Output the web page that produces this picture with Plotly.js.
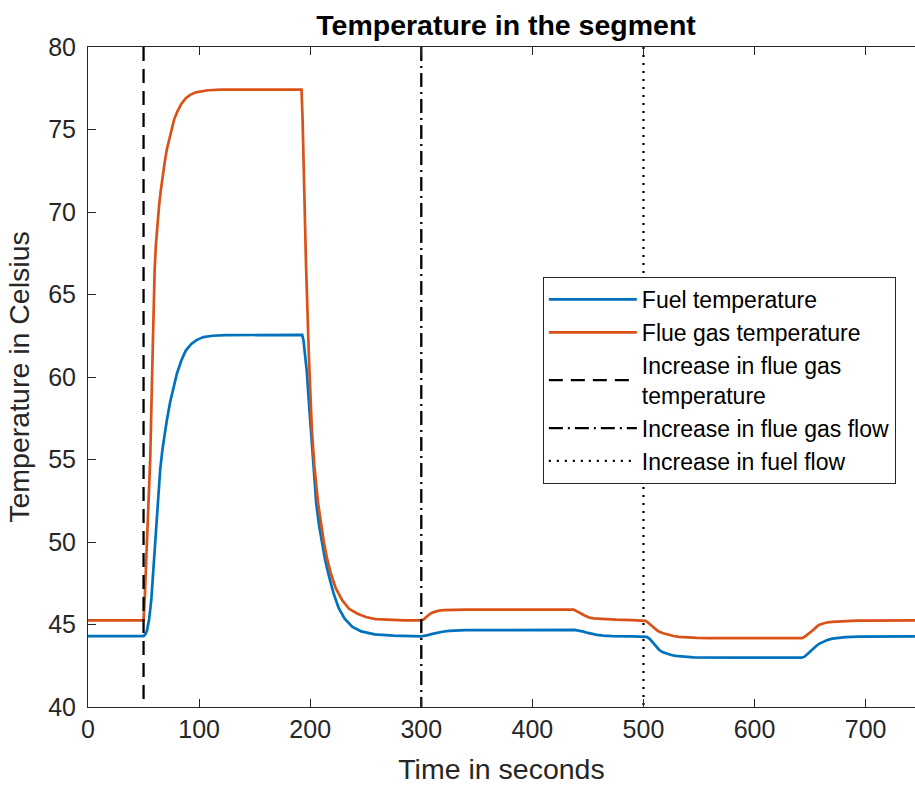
<!DOCTYPE html>
<html>
<head>
<meta charset="utf-8">
<script src="https://cdn.plot.ly/plotly-3.0.1.min.js"></script>
<style>html,body{margin:0;padding:0;background:#fff;}#chart{width:915px;height:785px;}</style>
</head>
<body>
<div id="chart"></div>
<script>
// Fuel temperature (seconds, Celsius)
var fuelTime = [0, 50, 51.5, 53, 55, 57, 59, 61, 63, 65, 67, 69, 71, 74, 77, 80, 84, 88, 93, 98, 104, 112, 124, 150,
  192.8, 194, 195.5, 197, 198.5, 200, 201.5, 203, 205.5, 208, 210.5, 213.5, 217, 221, 225.6, 231, 238, 246, 258, 275,
  300, 303, 306, 310, 314, 319, 325, 332, 340, 438, 442, 446, 450, 454, 458, 464, 472, 490,
  500, 503, 506, 508, 511, 514, 517, 521, 525, 529, 535, 545, 580,
  642.6, 645, 648, 651, 655, 658, 662, 666, 670, 675, 682, 694, 720, 745];
var fuelTemp = [44.3, 44.3, 44.4, 44.6, 45.3, 46.5, 48.5, 50.5, 52.6, 54.4, 55.6, 56.6, 57.4, 58.5, 59.4, 60.2, 61.0, 61.6, 62.0, 62.25, 62.42, 62.5, 62.54, 62.55,
  62.55, 62.2, 61.3, 60.3, 58.8, 57.3, 55.9, 54.4, 52.3, 51.0, 50.05, 48.9, 47.9, 46.9, 46.0, 45.35, 44.85, 44.58, 44.4, 44.32,
  44.28, 44.3, 44.36, 44.43, 44.5, 44.56, 44.61, 44.64, 44.66, 44.67, 44.64, 44.57, 44.49, 44.42, 44.37, 44.33, 44.3, 44.28,
  44.28, 44.25, 44.1, 43.95, 43.7, 43.47, 43.33, 43.22, 43.15, 43.1, 43.05, 43.01, 42.99,
  42.99, 43.05, 43.25, 43.45, 43.67, 43.83, 43.97, 44.07, 44.14, 44.19, 44.23, 44.26, 44.28, 44.28];

// Flue gas temperature (seconds, Celsius)
var flueTime = [0, 50, 51, 52, 54, 56, 58, 59, 60, 61, 62, 63, 64, 65.5, 67, 69, 71, 73, 75, 77.5, 80.5, 84, 88, 92, 97, 102, 108, 120, 150,
  192.2, 193.2, 194.2, 196.2, 198.8, 200, 201.5, 203.9, 207.2, 212.2, 215.5, 218.9, 223, 228.9, 235, 242.2, 250, 258.9, 270, 285,
  300, 302, 304, 306, 308, 310, 313, 316, 320, 328, 340, 437, 440, 443, 447, 451, 455, 462, 475, 490,
  500, 502, 504, 506, 508, 510, 513, 517, 522, 527, 532, 538, 548, 560,
  643, 645, 647, 650, 653, 656, 658, 661, 665, 670, 676, 682, 692, 700, 745];
var flueTemp = [45.25, 45.25, 46.5, 48.0, 51.0, 55.0, 61.0, 64.0, 66.5, 67.9, 68.9, 69.7, 70.4, 71.3, 72.2, 73.0, 73.8, 74.4, 75.0, 75.6, 76.1, 76.55, 76.9, 77.1, 77.25, 77.33, 77.38, 77.42, 77.42,
  77.42, 75.5, 72.5, 66.9, 61.3, 58.8, 56.8, 54.5, 52.3, 50.05, 48.9, 48.03, 47.2, 46.46, 45.95, 45.67, 45.45, 45.33, 45.28, 45.25,
  45.25, 45.3, 45.42, 45.55, 45.65, 45.72, 45.8, 45.84, 45.87, 45.89, 45.9, 45.9, 45.82, 45.7, 45.55, 45.42, 45.37, 45.33, 45.29, 45.26,
  45.25, 45.22, 45.12, 45.0, 44.87, 44.75, 44.6, 44.48, 44.37, 44.3, 44.25, 44.22, 44.19, 44.18,
  44.18, 44.25, 44.35, 44.5, 44.68, 44.87, 44.97, 45.05, 45.12, 45.16, 45.19, 45.21, 45.23, 45.24, 45.25];

// Event markers
var eventTimes = [50, 300, 500];
var eventNames = ['Increase in flue gas<br>temperature', 'Increase in flue gas flow', 'Increase in fuel flow'];
var eventDashes = ['14px,8px', '14px,5px,2px,5px', '2px,6px'];
var yLimits = [40, 80];
var xTicks = [0, 100, 200, 300, 400, 500, 600, 700];
var yTicks = [40, 45, 50, 55, 60, 65, 70, 75, 80];

var traces = [
  {x: fuelTime, y: fuelTemp, type: 'scatter', mode: 'lines', name: 'Fuel temperature',
   line: {color: '#0072BD', width: 2.7}},
  {x: flueTime, y: flueTemp, type: 'scatter', mode: 'lines', name: 'Flue gas temperature',
   line: {color: '#D95319', width: 2.7}}
];
for (var i = 0; i < eventTimes.length; i++) {
  traces.push({x: [eventTimes[i], eventTimes[i]], y: [yLimits[1], yLimits[0]], type: 'scatter', mode: 'lines',
    name: eventNames[i], line: {color: '#000000', width: 2.3, dash: eventDashes[i]}});
}

var fam = 'Liberation Sans, Arial, sans-serif';
var axisFont = {family: fam, size: 25, color: '#262626'};
var layout = {
  width: 915, height: 785,
  margin: {l: 88, r: 0, t: 47, b: 78, pad: 0},
  paper_bgcolor: '#ffffff', plot_bgcolor: '#ffffff',
  showlegend: true,
  title: {text: 'Temperature in the segment', xref: 'paper', x: 0.5055, xanchor: 'center',
    yref: 'container', y: 0.968, yanchor: 'middle',
    font: {family: fam, size: 28.5, color: '#000000', weight: 'bold'}},
  xaxis: {range: [0, 744.4], tickvals: xTicks, ticks: 'inside', ticklen: 8, tickwidth: 1,
    tickcolor: '#262626', showline: true, linecolor: '#262626', linewidth: 1, mirror: 'ticks',
    showgrid: false, zeroline: false, tickfont: axisFont,
    title: {text: 'Time in seconds', font: {family: fam, size: 28.5, color: '#262626'}, standoff: 25}},
  yaxis: {range: yLimits, tickvals: yTicks, ticks: 'inside', ticklen: 8, tickwidth: 1,
    tickcolor: '#262626', showline: true, linecolor: '#262626', linewidth: 1, mirror: false,
    showgrid: false, zeroline: false, tickfont: axisFont, ticklabelstandoff: 6,
    title: {text: 'Temperature in Celsius', font: {family: fam, size: 28.5, color: '#262626'}, standoff: 10}},
  legend: {x: 0.550, y: 0.6515, xanchor: 'left', yanchor: 'top', bgcolor: '#ffffff',
    bordercolor: '#262626', borderwidth: 1, itemwidth: 88, tracegroupgap: 0,
    font: {family: fam, size: 23, color: '#000000'}}
};

Plotly.newPlot('chart', traces, layout, {displayModeBar: false, staticPlot: true});
</script>
</body>
</html>
